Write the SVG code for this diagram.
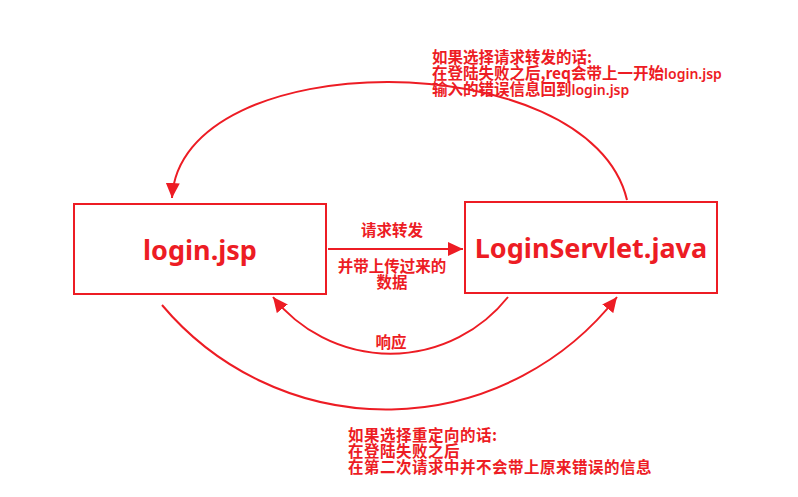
<svg xmlns="http://www.w3.org/2000/svg" width="798" height="497" viewBox="0 0 798 497">
<defs>
<style>
.box{fill:#fff;stroke:#ED1C24;stroke-width:2}
.title{font-family:"Noto Sans","Liberation Sans",sans-serif;font-weight:bold;font-size:27px;fill:#ED1C24;text-anchor:middle}
.cn{font-family:"Noto Sans CJK SC","Noto Sans",sans-serif;font-weight:bold;font-size:15.5px;fill:#ED1C24}
.lat{font-family:"Noto Sans","Liberation Sans",sans-serif;font-weight:600;font-size:14px}
.mid{text-anchor:middle}
.sp{letter-spacing:0.5px}
.conn{fill:none;stroke:#ED1C24;stroke-width:2}
</style>
<marker id="ah" markerUnits="userSpaceOnUse" markerWidth="16" markerHeight="14" refX="15" refY="7" orient="auto">
<path d="M0,0 L15,7 L0,14 z" fill="#ED1C24"/>
</marker>
</defs>
<rect width="798" height="497" fill="#fff"/>
<g id="connectors">
<path class="conn" d="M627,200 C590,43 180,43 172,198" marker-end="url(#ah)"/>
<path class="conn" d="M328,249 L463,249" marker-end="url(#ah)"/>
<path class="conn" d="M508,297 A150,150 0 0 1 273,297" marker-end="url(#ah)"/>
<path class="conn" d="M162,305 A293,293 0 0 0 617,297" marker-end="url(#ah)"/>
</g>
<g id="login-jsp">
<rect class="box" x="74" y="204" width="252" height="90"/>
<text class="title" x="200" y="260">login.jsp</text>
</g>
<g id="login-servlet">
<rect class="box" x="465" y="202" width="252" height="91"/>
<text class="title" x="591" y="258">LoginServlet.java</text>
</g>
<g id="labels">
<text class="cn mid" x="392" y="236">请求转发</text>
<text class="cn mid" x="392" y="272">并带上传过来的</text>
<text class="cn mid" x="392" y="288">数据</text>
<text class="cn mid" x="391" y="348">响应</text>
</g>
<g id="note-forward">
<text class="cn" x="432" y="63">如果选择请求转发的话:</text>
<text class="cn" x="432" y="79">在登陆失败之后,req会带上一开始<tspan class="lat">login.jsp</tspan></text>
<text class="cn" x="432" y="95">输入的错误信息回到<tspan class="lat">login.jsp</tspan></text>
</g>
<g id="note-redirect">
<text class="cn sp" x="348" y="441">如果选择重定向的话:</text>
<text class="cn sp" x="348" y="457">在登陆失败之后</text>
<text class="cn sp" x="348" y="473">在第二次请求中并不会带上原来错误的信息</text>
</g>
</svg>
